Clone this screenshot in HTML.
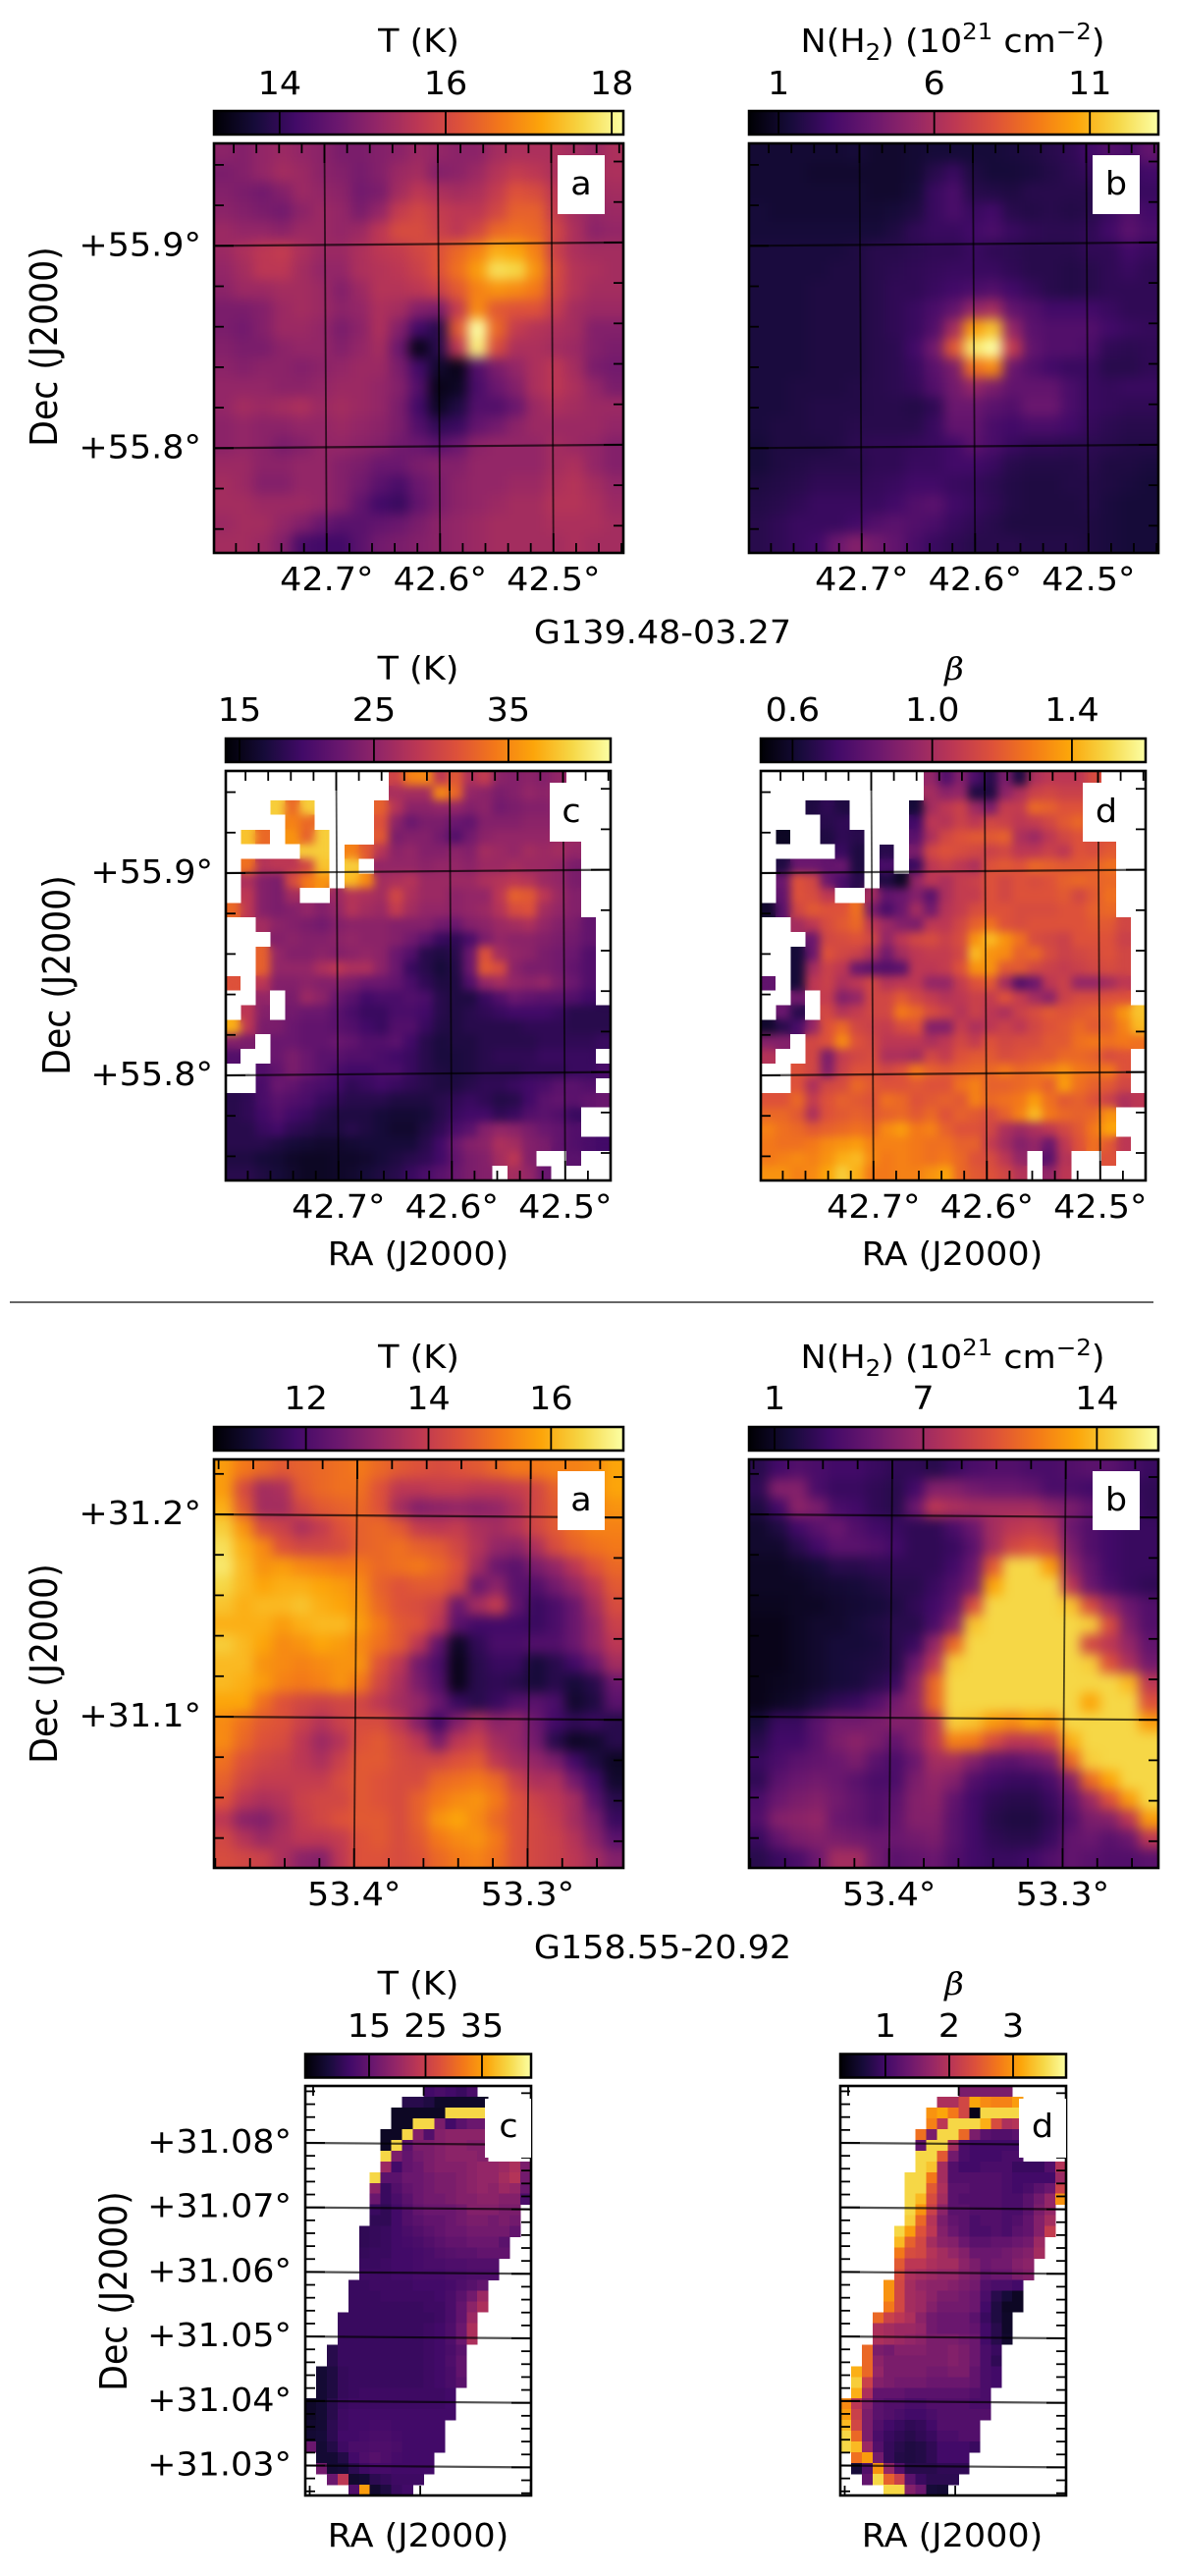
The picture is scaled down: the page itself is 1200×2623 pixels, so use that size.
<!DOCTYPE html>
<html lang="en">
<head>
<meta charset="utf-8">
<title>G139.48-03.27 and G158.55-20.92 maps</title>
<style>
html,body{margin:0;padding:0;background:#fff;}
svg{display:block;}
text{font-family:"DejaVu Sans","Liberation Sans",sans-serif;fill:#000;}
</style>
</head>
<body>
<svg id="chart" xmlns="http://www.w3.org/2000/svg" width="1200" height="2623" viewBox="0 0 1200 2623">
<defs id="defs">
<filter id="soft" x="-20%" y="-20%" width="140%" height="140%" color-interpolation-filters="sRGB"><feGaussianBlur stdDeviation="6"/></filter>
<filter id="softer" x="-20%" y="-20%" width="140%" height="140%" color-interpolation-filters="sRGB"><feGaussianBlur stdDeviation="4.5"/></filter>
</defs>
<line x1="10" y1="1326" x2="1175" y2="1326" stroke="#333" stroke-width="1.5"/>
</svg>
<script>
const _ = null;
/* Readings are levels 0-100 along each panel's colour bar (vmin..vmax). null = masked pixel. */
const g139Temperature = [
[38,36,40,42,40,38,34,34,36,38,42,40,38,38,44,46,46,46,44,42,46],
[34,36,40,44,42,38,36,33,36,42,44,36,38,42,48,52,50,46,44,44,46],
[36,34,32,36,42,40,38,32,34,44,50,46,44,46,52,60,58,50,44,42,44],
[38,36,34,32,38,42,40,34,40,52,56,52,50,50,56,64,64,52,44,40,42],
[42,40,40,38,42,42,40,42,50,58,58,54,50,56,66,68,66,56,46,38,40],
[42,46,50,52,46,42,42,46,50,52,56,60,66,72,82,80,72,54,46,44,44],
[40,44,50,50,44,40,40,46,48,50,54,60,68,78,92,90,76,58,48,46,44],
[38,42,42,44,44,42,36,42,48,48,50,54,62,72,76,74,70,56,48,44,44],
[34,34,36,42,44,42,38,40,46,44,36,34,52,74,62,60,60,52,44,42,42],
[34,32,36,42,42,40,34,38,46,36,20,14,62,100,66,52,48,46,44,36,36],
[36,34,34,38,40,40,36,40,44,30,4,14,50,96,58,46,46,44,42,36,34],
[38,36,38,38,36,38,40,42,42,34,20,8,4,24,34,40,46,50,44,34,32],
[40,40,40,38,38,40,42,42,40,36,24,4,6,22,30,36,46,50,46,40,34],
[40,44,42,44,46,42,44,42,40,34,20,6,12,24,24,30,42,46,44,42,42],
[38,40,38,38,40,40,42,40,38,34,24,16,18,28,32,38,42,42,42,42,40],
[38,40,38,34,36,40,40,38,36,32,30,26,30,38,40,40,40,44,42,40,36],
[42,42,38,38,40,40,36,34,30,30,34,36,36,40,40,40,40,44,46,40,36],
[44,42,36,36,40,40,36,32,26,22,30,34,38,40,40,42,42,46,48,44,40],
[44,44,42,42,42,40,36,28,20,18,28,34,38,40,42,44,44,48,48,46,42],
[42,44,44,40,36,30,26,26,28,30,34,38,40,42,44,44,44,46,46,46,44],
[44,44,42,36,22,20,20,26,32,34,36,38,40,42,44,44,44,44,46,44,44]
];
const g139Column = [
[9,9,9,9,9,10,8,8,9,10,10,10,10,11,12,14,16,20,24,22,28],
[9,9,9,8,8,8,8,8,9,14,18,12,10,10,11,13,15,17,18,18,20],
[9,9,9,9,9,9,8,8,10,18,22,14,13,12,14,14,14,14,18,18,18],
[10,9,9,9,9,9,9,10,12,18,22,18,20,14,13,14,13,14,18,24,20],
[10,10,10,10,10,10,10,12,16,18,18,20,22,18,16,15,15,16,20,26,22],
[11,11,11,11,11,12,14,14,15,16,16,18,16,15,14,14,14,16,16,20,18],
[11,11,11,11,12,12,14,15,16,17,18,18,18,16,14,14,13,14,16,18,16],
[11,11,11,12,12,12,14,16,16,18,20,22,24,20,17,14,13,14,16,16,16],
[11,11,11,12,12,12,14,16,18,22,28,40,44,28,24,20,20,20,18,16,16],
[11,11,11,12,12,12,14,16,18,24,44,78,86,40,26,24,24,24,20,18,17],
[11,11,11,12,12,12,14,15,20,32,62,94,100,52,28,24,24,22,16,15,16],
[11,11,11,12,12,12,14,15,18,26,34,68,74,30,24,20,18,18,14,14,16],
[11,11,12,12,12,13,14,15,17,24,32,40,34,28,28,28,22,18,17,18,18],
[11,11,12,13,13,13,14,14,13,16,30,30,26,24,30,30,22,18,17,16,16],
[11,12,12,13,13,14,14,14,14,18,28,28,22,20,22,22,20,17,15,14,14],
[10,12,12,12,13,15,16,16,17,18,20,26,22,18,16,16,15,15,14,13,13],
[10,12,13,14,14,14,16,16,18,18,20,20,18,14,13,13,13,14,12,12,11],
[12,13,14,16,16,16,17,18,20,20,18,17,15,13,12,12,13,13,12,11,10],
[13,14,16,18,18,18,18,20,24,26,20,18,16,13,12,12,12,13,11,10,10],
[14,16,18,18,18,20,24,26,24,22,18,16,14,12,12,12,12,12,11,10,10],
[14,16,18,20,30,36,32,28,22,18,16,14,14,14,13,13,13,12,11,10,10]
];
const g139FitTemperature = [
[_,_,_,_,_,_,_,_,_,_,_,55,72,74,50,62,46,52,38,36,38,36,40],
[_,_,_,_,_,_,_,_,_,_,_,45,44,44,74,66,40,38,34,36,40,38,42,42],
[_,_,_,88,66,88,_,_,_,_,64,48,38,38,40,40,36,38,32,34,36,36,40,40],
[_,_,_,_,72,66,_,_,_,_,60,38,30,34,34,30,28,36,36,36,38,38,38,40],
[_,86,66,_,76,64,88,_,_,_,62,34,36,36,32,24,32,38,40,40,40,40,42,42],
[_,_,_,_,_,88,88,_,72,62,48,38,40,36,36,38,36,44,42,40,44,42,44,40],
[_,68,48,50,50,56,86,_,88,_,40,40,40,38,40,40,38,42,42,44,42,42,40,34],
[_,46,36,34,58,70,76,_,84,74,44,46,48,42,42,42,42,46,48,50,48,42,40,34],
[_,50,36,34,44,_,_,42,48,46,44,56,46,42,42,38,40,40,50,64,62,50,42,36],
[66,50,36,34,36,40,36,40,48,44,42,52,44,40,40,38,40,42,48,58,60,44,40,36],
[_,_,44,38,36,34,32,36,38,38,38,36,36,36,32,30,36,38,42,44,46,40,36,34,28],
[_,_,_,36,38,36,36,38,40,38,38,36,32,26,18,16,22,34,40,38,38,36,34,32,28],
[_,_,64,40,36,36,38,36,38,40,38,30,24,14,12,14,30,60,44,40,38,34,32,30,24],
[_,_,64,40,40,40,46,50,46,46,38,30,18,14,10,13,30,62,58,38,34,34,32,28,24],
[60,_,50,36,36,38,36,36,34,30,30,28,22,16,12,12,24,40,44,40,38,40,34,30,24],
[_,_,40,_,34,42,38,30,26,20,22,22,24,22,14,12,12,18,24,30,28,26,26,24,20],
[_,50,36,_,32,30,30,26,22,18,18,22,22,20,14,12,14,16,18,20,20,20,18,14,14,14],
[82,50,34,34,30,28,28,26,24,20,18,24,24,18,13,12,14,14,14,14,16,16,16,14,14,14],
[36,34,_,30,30,28,28,30,28,24,24,26,20,14,11,12,12,14,14,14,14,16,16,16,16,18],
[24,_,_,30,34,30,26,26,24,24,22,20,18,14,11,11,12,14,16,16,16,18,18,18,18],
[_,_,24,28,34,30,26,22,20,20,22,22,18,14,12,11,12,14,14,14,16,16,16,18,18,22],
[_,_,22,30,28,24,22,20,16,18,20,18,16,14,12,12,14,16,16,18,20,22,26,26,24],
[14,16,22,26,24,22,18,16,14,14,14,12,12,12,14,16,18,16,13,14,20,26,28,26,28,30],
[14,16,20,24,20,18,14,12,12,12,10,9,9,10,14,18,20,20,16,18,24,26,24,18],
[14,14,18,20,16,14,12,12,14,12,10,8,8,12,16,22,26,36,40,38,34,30,28,24],
[14,14,14,12,10,9,8,8,9,10,10,10,10,14,20,30,36,38,46,44,36,34,28,24,22,20],
[12,12,10,9,7,6,6,7,7,8,10,12,14,16,20,28,34,36,44,50,36,_,_,26],
[14,14,12,10,8,6,6,7,8,10,12,14,18,22,26,30,34,36,_,44,40,30]
];
const g139FitBeta = [
[_,_,_,_,_,_,_,_,_,_,_,40,24,36,22,14,34,12,46,50,50,50,58],
[_,_,_,_,_,_,_,_,_,_,_,44,38,40,12,12,38,46,54,56,54,54,56,58],
[_,_,_,12,16,12,_,_,_,_,10,44,50,54,42,34,52,52,66,64,60,60,62,62],
[_,_,_,_,14,16,_,_,_,_,20,50,48,54,50,56,54,50,52,56,62,66,60,58],
[_,6,_,_,12,16,14,_,_,_,26,46,56,60,62,62,64,46,42,50,56,60,58,60],
[_,_,_,_,_,18,12,_,14,_,34,56,60,58,56,54,56,50,50,54,50,60,58,62],
[_,12,30,30,28,30,12,_,22,_,18,50,54,50,46,60,62,60,66,64,62,62,64,68],
[_,30,60,56,30,22,14,_,12,6,40,50,46,52,54,60,56,60,58,60,64,66,64,66],
[_,28,60,58,50,_,_,44,28,30,36,26,46,52,52,60,56,60,60,60,62,56,62,68],
[8,26,56,62,60,60,68,34,22,30,44,32,48,52,58,60,60,58,58,58,60,60,64,66],
[_,_,44,50,58,62,66,50,42,36,34,50,50,56,64,68,60,58,60,60,60,60,62,62,56],
[_,_,_,30,56,58,60,56,40,50,56,58,54,58,76,84,76,68,58,56,54,60,60,60,54],
[_,_,10,30,60,56,54,46,32,44,50,52,52,56,84,76,74,64,66,58,54,56,58,60,56],
[_,_,10,44,54,50,30,26,24,26,50,50,52,60,76,76,62,62,56,54,52,54,56,58,56],
[28,_,10,50,54,46,50,56,48,50,50,40,40,52,60,62,44,24,30,50,54,40,40,44,50],
[_,_,32,_,52,36,40,56,56,62,56,52,48,50,54,52,60,52,44,38,54,58,58,60,60],
[_,30,14,_,56,48,52,56,56,70,66,58,54,48,54,50,46,54,58,62,60,62,64,66,76,86],
[8,14,22,40,60,66,56,54,52,58,60,36,36,52,46,50,54,50,56,60,62,66,62,64,72,84],
[36,36,_,56,60,74,60,56,50,50,50,46,50,56,52,60,56,58,58,62,62,68,70,68,70,68],
[48,_,_,56,34,52,56,58,46,46,44,56,52,60,62,62,58,60,62,62,66,66,64,58,60],
[_,_,60,56,36,54,60,60,56,60,70,64,62,64,66,66,70,66,68,72,76,70,68,70,60],
[_,_,60,46,56,58,66,62,60,60,62,60,60,68,72,64,64,66,68,64,78,68,64,62,56],
[60,60,66,52,60,64,62,60,68,66,60,62,64,62,72,66,68,70,78,68,62,64,60,54,46,50],
[66,66,62,46,60,62,64,62,64,66,62,66,60,64,62,58,64,72,84,70,66,64,66,76],
[72,68,66,62,64,66,68,66,74,78,70,72,64,60,60,56,46,42,46,50,56,62,70,80],
[70,68,68,70,74,76,78,72,72,72,70,68,68,64,64,52,44,36,40,30,50,60,68,62,50],
[70,72,74,72,76,82,84,74,70,72,70,68,70,66,60,58,50,40,_,26,48,_,_,60],
[76,76,72,74,80,88,82,70,70,72,72,76,80,66,62,60,56,48,_,40,50]
];
const g158Temperature = [
[78,70,66,62,64,66,68,70,66,62,60,58,60,62,66,70,70,72,72,74,80],
[78,58,44,46,62,66,68,68,60,50,50,52,52,50,50,52,56,64,70,74,80],
[82,62,44,44,56,62,64,66,60,44,36,38,40,38,40,46,56,62,68,72,76],
[88,76,58,54,46,52,60,64,66,62,52,50,52,46,44,48,56,62,68,72,72],
[92,82,74,60,56,56,58,64,66,68,64,62,56,48,40,38,46,58,64,68,70],
[94,84,76,78,74,72,70,70,66,68,70,66,60,44,30,26,34,40,50,60,66],
[90,84,80,82,82,80,78,74,64,60,62,62,56,30,38,26,24,32,40,50,62],
[86,82,84,84,86,82,80,76,66,60,58,54,30,44,52,28,18,22,30,44,58],
[82,82,82,78,82,84,84,78,70,62,60,50,26,20,20,20,18,22,30,40,54],
[88,84,80,74,76,80,78,74,68,62,50,28,6,16,22,22,24,24,30,40,50],
[84,84,76,74,72,74,76,76,60,50,32,22,4,14,18,18,10,14,20,30,44],
[84,82,78,72,70,72,76,70,56,46,34,24,4,14,16,14,10,14,10,14,30],
[80,80,68,60,56,54,56,56,50,44,40,30,18,14,18,24,26,22,8,12,26],
[74,68,62,60,54,48,54,58,58,50,36,20,36,46,38,40,30,20,16,18,14],
[74,66,60,58,50,42,48,60,62,56,50,34,50,54,44,40,32,14,6,8,14],
[68,60,56,54,50,46,54,62,62,58,56,56,60,62,50,44,40,34,20,12,6],
[64,56,52,52,52,52,58,62,60,58,58,66,68,70,66,54,46,46,32,20,8],
[60,50,46,48,54,56,56,62,60,58,64,70,74,76,70,60,54,50,44,26,14],
[50,38,36,44,52,56,60,62,62,58,64,76,80,74,66,60,56,52,44,34,18],
[56,48,42,46,50,50,52,60,62,58,62,70,74,76,70,60,56,54,48,38,26],
[58,56,54,46,38,36,50,60,60,58,60,66,70,72,68,60,56,54,50,44,36]
];
const g158Column = [
[14,20,24,22,20,20,18,16,16,14,18,22,24,24,22,22,24,26,26,22,18],
[16,36,36,22,18,18,16,14,20,36,36,32,30,30,28,22,22,20,18,18,16],
[12,20,38,34,22,20,16,14,30,50,46,44,44,44,44,38,34,28,24,20,16],
[8,12,20,26,30,24,20,18,16,16,22,30,44,50,52,48,30,24,20,18,18],
[8,8,14,20,26,26,24,20,16,16,18,26,44,56,60,56,34,24,20,18,18],
[6,6,8,10,14,14,16,16,16,16,20,30,62,90,90,78,40,28,20,18,18],
[6,6,6,8,9,10,12,14,14,18,24,34,80,90,90,90,50,30,22,18,16],
[5,5,6,6,8,9,10,12,16,20,28,58,90,90,90,90,86,58,42,30,24],
[4,4,6,8,8,10,12,14,14,22,38,86,90,90,90,90,90,88,58,34,24],
[4,4,6,8,10,10,11,14,18,40,66,90,90,90,90,90,90,56,50,40,28],
[4,4,6,8,10,11,12,14,30,50,88,90,90,90,90,90,90,88,60,46,32],
[4,5,6,8,10,11,14,18,38,66,90,90,90,90,90,90,90,90,90,84,50],
[4,6,8,12,16,18,24,32,40,66,90,90,90,90,90,90,90,80,90,90,60],
[10,18,18,26,32,32,34,36,36,50,88,86,78,74,80,76,90,90,90,90,78],
[14,20,20,26,34,38,34,28,36,50,72,70,58,50,50,56,82,90,90,90,90],
[18,22,26,28,30,34,26,22,30,44,44,36,28,26,30,34,66,88,90,90,90],
[16,26,30,32,30,26,22,22,34,40,36,24,20,18,18,22,36,66,80,90,90],
[22,30,34,36,32,28,24,26,36,38,28,20,16,14,14,18,28,42,60,78,90],
[24,36,38,40,30,28,24,28,36,36,26,20,14,12,12,16,24,34,36,50,78],
[18,28,34,36,34,32,30,30,32,34,26,20,16,14,14,18,28,30,26,30,50],
[14,18,22,30,44,44,32,26,28,30,24,20,18,18,20,24,28,26,24,24,26]
];
const g158FitTemperature = [
[_,_,_,_,_,_,_,_,_,_,_,20,22,20,18,22],
[_,_,_,_,_,_,_,_,_,14,14,12,7,7,7,7,7],
[_,_,_,_,_,_,_,_,6,6,6,6,6,90,90,90,90],
[_,_,_,_,_,_,_,_,6,6,90,90,34,20,26,30,30],
[_,_,_,_,_,_,_,6,6,90,36,24,36,38,38,38,38],
[_,_,_,_,_,_,_,6,90,26,34,34,36,38,38,36,36],
[_,_,_,_,_,_,_,90,34,28,32,34,36,38,38,38,36],
[_,_,_,_,_,_,_,42,20,28,30,34,36,36,36,38,40,40,42,46,34],
[_,_,_,_,_,_,90,26,26,30,30,32,34,34,36,38,40,40,44,48,32],
[_,_,_,_,_,_,38,18,24,28,30,32,34,34,36,38,40,38,42,40,30],
[_,_,_,_,_,_,30,18,22,26,30,32,32,34,36,36,38,38,36,36,22],
[_,_,_,_,_,_,18,16,20,24,28,30,30,30,32,36,36,36,34,34],
[_,_,_,_,_,_,16,16,20,24,26,28,28,30,32,34,34,32,34,32],
[_,_,_,_,_,16,17,18,20,22,24,26,28,30,30,32,32,32,32,28],
[_,_,_,_,_,16,17,18,20,21,22,24,26,28,28,30,30,30,26],
[_,_,_,_,_,17,18,18,20,20,21,22,24,25,26,26,28,28,28],
[_,_,_,_,_,18,18,19,20,20,21,22,22,23,23,24,24,24],
[_,_,_,_,_,19,19,19,20,20,21,21,21,22,22,23,23,23],
[_,_,_,_,18,18,19,19,19,19,20,20,20,21,23,25,28],
[_,_,_,_,18,18,18,19,19,19,19,19,20,22,26,32,42],
[_,_,_,_,18,18,18,18,18,18,18,19,19,22,28,38,46],
[_,_,_,18,18,18,18,18,18,18,18,18,19,22,28,42],
[_,_,_,18,18,18,18,18,18,18,18,19,20,23,30,46],
[_,_,_,18,18,18,18,18,18,18,18,19,20,23,30,46],
[_,_,14,18,18,18,18,18,18,18,18,19,20,22,26],
[_,_,14,18,18,18,18,18,18,18,18,19,20,23,28],
[_,9,12,17,18,18,18,18,18,18,18,19,20,22,28],
[_,9,12,17,18,18,18,18,18,18,18,19,20,22,26],
[_,9,12,17,18,19,19,19,19,19,19,19,19,20],
[7,9,14,18,19,19,19,19,19,19,19,19,19,20],
[7,9,14,19,20,20,20,20,20,20,20,20,20,20],
[8,9,15,19,20,20,21,21,20,20,20,20,20],
[9,10,15,20,20,21,22,22,21,20,20,20,20],
[30,9,13,19,22,22,23,23,22,20,20,20,20],
[_,9,9,13,20,23,25,23,21,20,20,20],
[_,32,9,10,15,19,21,21,20,20,20,20],
[_,_,30,50,8,9,15,17,19,19,19],
[_,_,_,_,24,78,8,12,18,20]
];
const g158FitBeta = [
[_,_,_,_,_,_,_,_,_,_,_,34,34,34,34,34],
[_,_,_,_,_,_,_,_,_,46,46,56,80,74,72,72,78],
[_,_,_,_,_,_,_,_,76,80,70,56,4,90,90,90,90],
[_,_,_,_,_,_,_,_,72,50,90,90,90,82,58,46,48],
[_,_,_,_,_,_,_,68,34,90,90,66,34,26,24,24,26],
[_,_,_,_,_,_,_,28,90,90,44,22,20,20,20,20,20],
[_,_,_,_,_,_,_,90,90,62,32,22,20,20,20,22,22],
[_,_,_,_,_,_,_,90,86,44,24,20,20,22,22,22,18,18,18,24,48],
[_,_,_,_,_,_,90,90,70,44,24,24,24,24,24,22,20,20,20,20,42],
[_,_,_,_,_,_,90,90,62,46,26,26,24,24,24,22,20,22,26,30,54],
[_,_,_,_,_,_,90,84,58,44,26,24,24,24,24,22,22,26,32,40,76],
[_,_,_,_,_,_,90,76,54,38,26,26,24,24,24,22,22,26,34,40],
[_,_,_,_,_,_,88,66,48,34,28,26,22,24,24,22,24,28,36,44],
[_,_,_,_,_,90,78,60,50,36,30,26,22,22,24,22,26,28,36,52],
[_,_,_,_,_,84,64,56,44,38,36,30,26,26,28,28,30,32,42],
[_,_,_,_,_,70,58,56,48,44,40,36,30,30,30,32,34,36,44],
[_,_,_,_,_,62,50,50,46,44,44,38,34,30,32,32,36,38],
[_,_,_,_,_,58,46,44,42,40,40,36,34,28,30,30,34,36],
[_,_,_,_,76,56,44,40,38,38,36,34,32,24,22,22,20],
[_,_,_,_,76,56,44,42,38,34,34,32,30,22,14,10,6],
[_,_,_,_,70,56,44,42,36,32,32,32,30,20,12,6,6],
[_,_,_,66,54,50,46,38,32,30,30,30,26,18,12,7],
[_,_,_,46,44,42,42,40,32,30,30,30,28,20,14,7],
[_,_,_,46,44,42,40,38,34,34,34,32,30,20,14,8],
[_,_,66,34,32,36,36,36,34,34,36,34,30,22,18],
[_,_,66,38,34,34,34,34,34,34,36,34,30,22,16],
[_,82,66,40,34,34,34,34,32,32,34,34,28,22,20],
[_,88,54,36,34,32,32,32,30,30,30,30,28,22,20],
[_,82,46,28,28,28,26,26,26,26,26,26,24,22],
[74,50,36,26,24,24,22,22,24,24,24,24,22,22],
[78,54,34,26,24,22,20,20,22,24,24,24,24,24],
[84,56,34,24,20,18,16,17,20,24,24,24,24],
[90,66,34,22,18,16,14,16,18,22,22,24,24],
[90,84,42,24,17,14,12,13,16,20,20,20,18],
[_,68,78,32,17,13,12,13,16,20,20,20],
[_,10,24,76,40,24,14,14,14,16,16,16],
[_,_,28,90,64,54,26,18,15,15,15],
[_,_,_,_,90,90,36,30,10,9]
];

const inferno = ['#000004','#160b39','#420a68','#6a176e','#932667','#bc3754','#dd513a','#f37819','#fca50a','#f6d746','#fcffa4'];

const colorbarTicksG139T = [14,16,18];
const colorbarTicksG139N = [1,6,11];
const colorbarTicksG139FitT = [15,25,35];
const colorbarTicksG139Beta = ['0.6','1.0','1.4'];
const colorbarTicksG158T = [12,14,16];
const colorbarTicksG158N = [1,7,14];
const colorbarTicksG158FitT = [15,25,35];
const colorbarTicksG158Beta = [1,2,3];

const raTicksG139 = [42.7,42.6,42.5];
const decTicksG139 = [55.9,55.8];
const raTicksG158 = [53.4,53.3];
const decTicksG158 = [31.2,31.1];
const decTicksG158Fit = [31.08,31.07,31.06,31.05,31.04,31.03];

const SVGNS = 'http://www.w3.org/2000/svg';
const root = document.getElementById('chart');
const defs = document.getElementById('defs');

function hexRgb(h){return [parseInt(h.substr(1,2),16),parseInt(h.substr(3,2),16),parseInt(h.substr(5,2),16)];}
function colorScale(level){
  const t=Math.max(0,Math.min(1,level/100))*(inferno.length-1);
  const i=Math.min(inferno.length-2,Math.floor(t));
  const a=hexRgb(inferno[i]),b=hexRgb(inferno[i+1]),f=t-i;
  return 'rgb('+a.map((v,k)=>Math.round(v+(b[k]-v)*f)).join(',')+')';
}
function mk(parent,tag,name,interact,attrs){
  const el=document.createElementNS(SVGNS,tag);
  
  
  for(const k in attrs){el.setAttribute(k,attrs[k]);}
  parent.appendChild(el);
  return el;
}
function addText(parent,name,str,x,y,opt){
  opt=opt||{};
  const size=opt.size||33;
  let tf='translate('+x+','+y+') scale(1.06,1)';
  if(opt.rotate){tf='translate('+x+','+y+') rotate(-90) scale(1.05,'+(opt.thick||1.15)+')';}
  const el=mk(parent,'text',name,'false',{transform:tf,'font-size':size,'text-anchor':opt.anchor||'middle'});
  if(opt.family){el.style.fontFamily=opt.family;el.style.fontStyle='italic';}
  el.textContent=str;
  return el;
}
function addColumnTitle(parent,x,y){
  const el=mk(parent,'text','colorbar-title','false',{transform:'translate('+x+','+y+') scale(1.06,1)','font-size':33,'text-anchor':'middle'});
  const parts=[['N(H',0,1],['2',8,.7],[') (10',-8,1],['21',-13,.7],[' cm',13,1],['\u22122',-13,.7],[')',13,1]];
  parts.forEach(function(p){
    const s=document.createElementNS(SVGNS,'tspan');
    s.setAttribute('dy',p[1]);
    s.setAttribute('font-size',33*p[2]);
    s.textContent=p[0];
    el.appendChild(s);
  });
}
function xAt(p,ra,t){return p.ra.x+p.ra.tilt*t+(p.ra.ref-ra)*p.ra.perDeg;}
function yAt(p,dec,s){return p.dec.y+p.dec.tilt*s-(dec-p.dec.ref)*p.dec.perDeg;}
function cbX(p,v){return p.x+(v-p.vmin)/(p.vmax-p.vmin)*p.w;}

function drawHeat(g,p){
  const cw=p.w/p.cols,ch=p.h/p.rows,data=p.data;
  function layer(parent,pad){
    data.forEach(function(row,r){row.forEach(function(v,c){
      if(v===null)return;
      let x=p.x+c*cw,y=p.y+r*ch,w=cw+.3,h=ch+.3;
      if(pad){
        if(c===0){x-=pad;w+=pad;}
        if(c===p.cols-1){w+=pad;}
        if(r===0){y-=pad;h+=pad;}
        if(r===p.rows-1){h+=pad;}
      }
      const cell=mk(parent,'rect','heat-cell','false',{x:x.toFixed(2),y:y.toFixed(2),width:w.toFixed(2),height:h.toFixed(2),fill:colorScale(v)});
    });});
  }
  if(p.blur){
    if(p.masked){
      const base=mk(g,'g','heat-base','false',{'shape-rendering':'crispEdges'});
      layer(base,0);
    }
    const soft=mk(g,'g','heat-smooth','false',{filter:'url(#'+p.blur+')'});
    layer(soft,30);
    if(p.masked){
      const m=mk(g,'g','mask-pixels','false',{'shape-rendering':'crispEdges'});
      for(let r=0;r<p.rows;r++){for(let c=0;c<p.cols;c++){
        const v=data[r]&&data[r][c]!==undefined?data[r][c]:null;
        if(v===null){
          mk(m,'rect','masked-pixel','false',{x:(p.x+c*cw).toFixed(2),y:(p.y+r*ch).toFixed(2),width:(cw+.3).toFixed(2),height:(ch+.3).toFixed(2),fill:'#fff'});
        }
      }}
    }
  }else{
    const crisp=mk(g,'g','heat-pixels','false',{'shape-rendering':'crispEdges'});
    layer(crisp,0);
  }
}
function drawColorbar(g,p){
  const gid='grad-'+p.id;
  const lg=mk(defs,'linearGradient','inferno-gradient','false',{id:gid,x1:0,x2:1,y1:0,y2:0});
  inferno.forEach(function(c,i){
    mk(lg,'stop','gradient-stop','false',{offset:i/(inferno.length-1),'stop-color':c});
  });
  const cb=mk(g,'g','colorbar','false',{});
  mk(cb,'rect','colorbar-ramp','false',{x:p.x,y:p.cbY,width:p.w,height:24,fill:'url(#'+gid+')',stroke:'#000','stroke-width':2.5});
  p.cbTicks.forEach(function(t){
    const x=cbX(p,parseFloat(t));
    mk(cb,'line','colorbar-tick','false',{x1:x,x2:x,y1:p.cbY,y2:p.cbY+24,stroke:'#000','stroke-width':1.8});
    addText(cb,'colorbar-tick-label',String(t),x,p.cbLabelY);
  });
  if(p.title==='N'){addColumnTitle(cb,p.x+p.w/2-1,p.titleY);}
  else if(p.title==='beta'){addText(cb,'colorbar-title','\u03b2',p.x+p.w/2+1,p.titleY,{family:'"DejaVu Serif","Liberation Serif",serif',size:32});}
  else{addText(cb,'colorbar-title','T (K)',p.x+p.w/2+(p.titleDx||0),p.titleY);}
}
function drawAxes(g,p){
  const lines=mk(g,'g','grid-lines','false',{'clip-path':'url(#clip-'+p.id+')'});
  (p.raTicks||[]).forEach(function(v){
    mk(lines,'line','ra-grid-line','false',{x1:xAt(p,v,0),x2:xAt(p,v,1),y1:p.y,y2:p.y+p.h,stroke:'#000','stroke-width':1.8,'stroke-opacity':.68});
  });
  p.decTicks.forEach(function(v){
    mk(lines,'line','dec-grid-line','false',{x1:p.x,x2:p.x+p.w,y1:yAt(p,v,0),y2:yAt(p,v,1),stroke:'#000','stroke-width':2.2,'stroke-opacity':.68});
  });
  const ticks=mk(g,'g','axis-ticks','false',{});
  for(let k=-80;k<=80;k++){
    const ra=p.ra.ref+k*p.ra.step;
    const major=(p.raTicks||[]).some(function(t){return Math.abs(t-ra)<1e-6;});
    const len=major?20:10;
    const xt=xAt(p,ra,0),xb=xAt(p,ra,1);
    if(xt>p.x&&xt<p.x+p.w){
      mk(ticks,'line','ra-tick-top','false',{x1:xt,x2:xt,y1:p.y,y2:p.y+len,stroke:'#000','stroke-width':1.8});
    }
    if(xb>p.x&&xb<p.x+p.w){
      mk(ticks,'line','ra-tick-bottom','false',{x1:xb,x2:xb,y1:p.y+p.h,y2:p.y+p.h-len,stroke:'#000','stroke-width':1.8});
    }
  }
  for(let k=-80;k<=80;k++){
    const dec=p.dec.ref+k*p.dec.step;
    const major=p.decTicks.some(function(t){return Math.abs(t-dec)<1e-6;});
    const len=major?20:10;
    const yl=yAt(p,dec,0),yr=yAt(p,dec,1);
    if(yl>p.y&&yl<p.y+p.h){
      mk(ticks,'line','dec-tick-left','false',{x1:p.x,x2:p.x+len,y1:yl,y2:yl,stroke:'#000','stroke-width':1.8});
    }
    if(yr>p.y&&yr<p.y+p.h){
      mk(ticks,'line','dec-tick-right','false',{x1:p.x+p.w,x2:p.x+p.w-len,y1:yr,y2:yr,stroke:'#000','stroke-width':1.8});
    }
  }
  mk(g,'rect','panel-frame','false',{x:p.x,y:p.y,width:p.w,height:p.h,fill:'none',stroke:'#000','stroke-width':2.6});
  (p.raTicks||[]).forEach(function(v){
    addText(g,'ra-tick-label',v.toFixed(1)+'\u00b0',xAt(p,v,1),p.y+p.h+38);
  });
  if(p.decLabels){
    p.decTicks.forEach(function(v){
      addText(g,'dec-tick-label','+'+v.toFixed(p.decDigits)+'\u00b0',p.decLabelX,yAt(p,v,0)+10,{anchor:'end'});
    });
  }
  if(p.box){
    mk(g,'rect','panel-letter-box','false',{x:p.box[0],y:p.box[1],width:p.box[2],height:p.box[3],fill:'#fff'});
    addText(g,'panel-letter',p.letter,p.box[4],p.box[5]);
  }
}
function drawPanel(p){
  const g=mk(root,'g','panel-'+p.id,'false',{});
  const cp=mk(defs,'clipPath','panel-clip','false',{id:'clip-'+p.id});
  mk(cp,'rect','panel-clip-rect','false',{x:p.x,y:p.y,width:p.w,height:p.h});
  const holder=mk(g,'g','heatmap','false',{'clip-path':'url(#clip-'+p.id+')'});
  drawHeat(holder,p);
  drawAxes(g,p);
  drawColorbar(g,p);
}

const raG139 = function(x){return {ref:42.6,x:x,perDeg:1155,tilt:2.3,step:.02};};
const decG139 = function(y){return {ref:55.9,y:y,perDeg:2060,tilt:-3.4,step:.02};};
const raG158 = function(x){return {ref:53.4,x:x,perDeg:1767,tilt:-3.3,step:.02};};
const decG158 = {ref:31.2,y:1542,perDeg:2060,tilt:3.2,step:.02};
const raG158Fit = function(x){return {ref:53.36,x:x,perDeg:5630,tilt:-3.5,step:.02};};
const decG158Fit = {ref:31.08,y:2182,perDeg:6570,tilt:1.9,step:.002};

const panels = [
{id:'g139-temperature',letter:'a',x:218,y:146,w:417,h:417,cols:21,rows:21,data:g139Temperature,blur:'soft',vmin:13.21,vmax:18.14,cbTicks:colorbarTicksG139T,cbY:113,cbLabelY:96,title:'T',titleY:53,ra:raG139(446),dec:decG139(250.3),raTicks:raTicksG139,decTicks:decTicksG139,decLabels:true,decDigits:1,decLabelX:205,box:[568,158,48,60,592,198]},
{id:'g139-column',letter:'b',x:763,y:146,w:417,h:417,cols:21,rows:21,data:g139Column,blur:'soft',vmin:.05,vmax:13.2,cbTicks:colorbarTicksG139N,cbY:113,cbLabelY:96,title:'N',titleY:53,ra:raG139(991),dec:decG139(250.3),raTicks:raTicksG139,decTicks:decTicksG139,box:[1113,158,48,60,1137,198]},
{id:'g139-fit-temperature',letter:'c',x:230,y:785,w:392,h:417,cols:26,rows:28,data:g139FitTemperature,blur:'softer',masked:true,vmin:13.98,vmax:42.6,cbTicks:colorbarTicksG139FitT,cbY:752,cbLabelY:734,title:'T',titleY:692,ra:raG139(458),dec:decG139(889),raTicks:raTicksG139,decTicks:decTicksG139,decLabels:true,decDigits:1,decLabelX:217,box:[560,797,48,60,582,837]},
{id:'g139-fit-beta',letter:'d',x:775,y:785,w:392,h:417,cols:26,rows:28,data:g139FitBeta,blur:'softer',masked:true,vmin:.509,vmax:1.611,cbTicks:colorbarTicksG139Beta,cbY:752,cbLabelY:734,title:'beta',titleY:692,ra:raG139(1003),dec:decG139(889),raTicks:raTicksG139,decTicks:decTicksG139,box:[1103,797,49,60,1127,837]},
{id:'g158-temperature',letter:'a',x:218,y:1486,w:417,h:416,cols:21,rows:21,data:g158Temperature,blur:'soft',vmin:10.5,vmax:17.18,cbTicks:colorbarTicksG158T,cbY:1453,cbLabelY:1435,title:'T',titleY:1393,ra:raG158(364),dec:decG158,raTicks:raTicksG158,decTicks:decTicksG158,decLabels:true,decDigits:1,decLabelX:205,box:[568,1498,48,60,592,1538]},
{id:'g158-column',letter:'b',x:763,y:1486,w:417,h:416,cols:21,rows:21,data:g158Column,blur:'soft',vmin:-.03,vmax:16.48,cbTicks:colorbarTicksG158N,cbY:1453,cbLabelY:1435,title:'N',titleY:1393,ra:raG158(909),dec:decG158,raTicks:raTicksG158,decTicks:decTicksG158,box:[1113,1498,48,60,1137,1538]},
{id:'g158-fit-temperature',letter:'c',x:311,y:2124,w:230,h:417,cols:21,rows:38,data:g158FitTemperature,vmin:3.7,vmax:43.7,cbTicks:colorbarTicksG158FitT,cbY:2091.5,cbLabelY:2074,title:'T',titleY:2031,ra:raG158Fit(319),dec:decG158Fit,raTicks:[],decTicks:decTicksG158Fit,decLabels:true,decDigits:2,decLabelX:297,box:[494,2137,47,60,518,2176]},
{id:'g158-fit-beta',letter:'d',x:856,y:2124,w:230,h:417,cols:21,rows:38,data:g158FitBeta,vmin:.294,vmax:3.83,cbTicks:colorbarTicksG158Beta,cbY:2091.5,cbLabelY:2074,title:'beta',titleY:2031,ra:raG158Fit(864),dec:decG158Fit,raTicks:[],decTicks:decTicksG158Fit,box:[1038,2137,48,60,1062,2176]}
];
panels.forEach(drawPanel);

addText(root,'source-title','G139.48-03.27',675,655);
addText(root,'source-title','G158.55-20.92',675,1994);
addText(root,'x-axis-title','RA (J2000)',426,1288);
addText(root,'x-axis-title','RA (J2000)',970,1288);
addText(root,'x-axis-title','RA (J2000)',426,2593);
addText(root,'x-axis-title','RA (J2000)',970,2593);
addText(root,'y-axis-title','Dec (J2000)',58,353,{rotate:true});
addText(root,'y-axis-title','Dec (J2000)',71,993,{rotate:true});
addText(root,'y-axis-title','Dec (J2000)',58,1694,{rotate:true});
addText(root,'y-axis-title','Dec (J2000)',129,2333,{rotate:true});
</script>
</body>
</html>
